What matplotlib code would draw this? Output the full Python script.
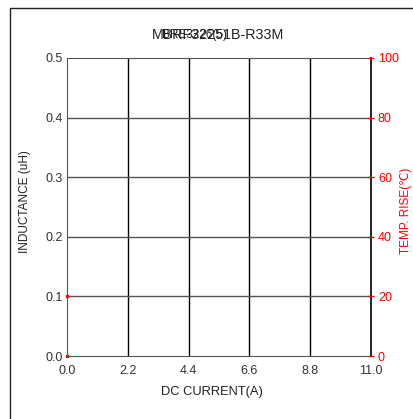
"""
Empty inductance / temperature rise chart grid
"""
import matplotlib
matplotlib.use("Agg")
import matplotlib.pyplot as plt
from matplotlib.patches import Rectangle

plt.rcParams['font.family'] = ['Liberation Sans', 'DejaVu Sans']

current_ticks = [0.0, 2.2, 4.4, 6.6, 8.8, 11.0]
inductance_ticks = [0.0, 0.1, 0.2, 0.3, 0.4, 0.5]
temp_ticks = [0, 20, 40, 60, 80, 100]

W, H = 414, 419
fig = plt.figure(figsize=(W / 100, H / 100), dpi=100)
ax = fig.add_axes([67 / W, 1 - 356 / H, 304 / W, 298 / H])

ax.set_xlim(current_ticks[0], current_ticks[-1])
ax.set_ylim(inductance_ticks[0], inductance_ticks[-1])
ax.set_xticks(current_ticks)
ax.set_xticklabels([f"{v:.1f}" for v in current_ticks])
ax.set_yticks(inductance_ticks)
ax.set_yticklabels([f"{v:.1f}" for v in inductance_ticks])
ax.tick_params(axis="x", length=0, labelsize=9, colors="#333333", pad=6.5)
ax.tick_params(axis="y", length=0, labelsize=9, colors="#333333", pad=3)

for v in current_ticks[1:-1]:
    ax.axvline(v, color="black", lw=1.0)
for v in inductance_ticks[1:-1]:
    ax.axhline(v, color="#555555", lw=1.0)

for side in ["left", "bottom", "top"]:
    ax.spines[side].set_color("#555555")
ax.spines["right"].set_color("#222222")
ax.spines["right"].set_linewidth(1.4)

# tiny red markers on left axis
ax.plot([0, 0], [0.0, 0.1], ls="none", marker="s", ms=1.5, color="red", clip_on=False)

ax2 = ax.twinx()
ax2.set_ylim(temp_ticks[0], temp_ticks[-1])
ax2.set_yticks(temp_ticks)
ax2.tick_params(axis="y", length=4, width=1, colors="red", labelsize=9, pad=3,
                direction="inout")
for s in ax2.spines.values():
    s.set_visible(False)

# axis labels placed in figure pixels to match the source
fig.text(212 / W, 1 - 392 / H, "DC CURRENT(A)", ha="center", va="center",
         fontsize=9.3, color="#222222")
fig.text(25 / W, 1 - 202 / H, "INDUCTANCE (uH)", ha="center", va="center",
         rotation=90, fontsize=8.5, color="#222222")
fig.text(406 / W, 1 - 211 / H, "TEMP. RISE(℃)", ha="center", va="center",
         rotation=90, fontsize=8.5, color="red")

# overlapping title texts, as in the source
fig.text(152 / W, 1 - 35 / H, "MBRF32251B-R33M", ha="left", va="center",
         fontsize=10.3, color="#222222")
fig.text(162 / W, 1 - 35 / H, "BRE3226(5)", ha="left", va="center",
         fontsize=8.5, color="#222222")

fig.patches.append(Rectangle((10 / W, -0.1), 1.2, 1 - 8 / H + 0.1,
                             transform=fig.transFigure, fill=False,
                             edgecolor="#222222", lw=1.0, clip_on=False))

fig.savefig("out.png", dpi=100)
